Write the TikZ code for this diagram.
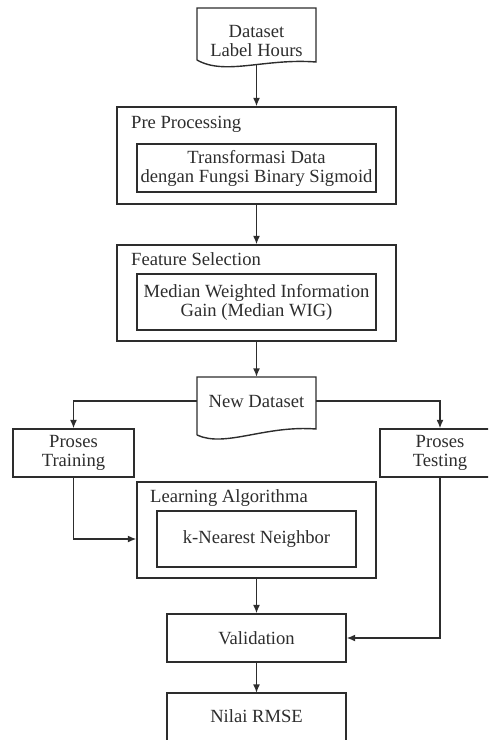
\documentclass[tikz,border=0pt]{standalone}
\usepackage{fontspec}
\setmainfont{Liberation Serif}
\usetikzlibrary{arrows.meta,calc}
\definecolor{ink}{RGB}{45,45,45}
\begin{document}
\begin{tikzpicture}[x=1pt,y=-1pt,
  every node/.style={text=ink,font=\fontsize{18.6}{19}\selectfont,align=center,inner sep=0pt},
  box/.style={draw=ink,line width=1.4pt,rectangle},
  plain/.style={rectangle},
  title/.style={anchor=base west},
  arr/.style={draw=ink,line width=1.4pt,-{Latex[length=8.5pt,width=7pt]}},
  line/.style={draw=ink,line width=1.4pt}]
\clip (0,0) rectangle (488,740);
% Dataset document
\draw[line] (197,60) -- (197,8) -- (316,8) -- (316,62)
  .. controls (265,58) and (225,76) .. (197,60);
\node[plain,minimum width=119pt] (ds) at (256.5,41) {Dataset\\Label Hours};
\coordinate (dsb) at (256.5,65);
% Pre Processing
\node[box,minimum width=279pt,minimum height=97pt] (pre) at (256.5,155.5) {};
\node[title] (pret) at (131,128) {Pre Processing};
\node[box,minimum width=239pt,minimum height=48pt] (prei) at (256.5,168) {Transformasi Data\\dengan Fungsi Binary Sigmoid};
% Feature Selection
\node[box,minimum width=279pt,minimum height=96pt] (fs) at (256.5,293) {};
\node[title] (fst) at (131,265) {Feature Selection};
\node[box,minimum width=239pt,minimum height=56pt] (fsi) at (256.5,302) {Median Weighted Information\\Gain (Median WIG)};
% New Dataset document
\draw[line] (197,435) -- (197,377) -- (316,377) -- (316,429)
  .. controls (265,425) and (225,448) .. (197,435);
\node[plain,minimum width=119pt,minimum height=48pt] (nd) at (256.5,401) {New Dataset};
% Training / Testing
\node[box,minimum width=121pt,minimum height=48pt] (train) at (73.5,453) {Proses\\Training};
\node[box,minimum width=120pt,minimum height=48pt] (test) at (440,453) {Proses\\Testing};
% Learning Algorithma
\node[box,minimum width=239pt,minimum height=96pt] (la) at (256.5,530) {};
\node[title] (lat) at (150,502) {Learning Algorithma};
\node[box,minimum width=199pt,minimum height=56pt] (lai) at (256.5,539) {k-Nearest Neighbor};
% Validation
\node[box,minimum width=179pt,minimum height=48pt] (val) at (256.5,638) {Validation};
% Nilai RMSE (cut off at the bottom)
\node[plain,minimum width=179pt,minimum height=46pt] (nilai) at (256.5,716) {Nilai RMSE};
\draw[line] (nilai.north west) rectangle (346,780);
% connectors
\draw[arr] (dsb) -- (pre.north);
\draw[arr] (pre.south) -- (fs.north);
\draw[arr] (fs.south) -- (nd.north);
\draw[arr] (nd.west) -| (train.north);
\draw[arr] (nd.east) -| (test.north);
\draw[arr] (train.south) |- (la.west |- lai);
\draw[arr] (la.south) -- (val.north);
\draw[arr] (test.south) |- (val.east);
\draw[arr] (val.south) -- (nilai.north);
\end{tikzpicture}
\end{document}
